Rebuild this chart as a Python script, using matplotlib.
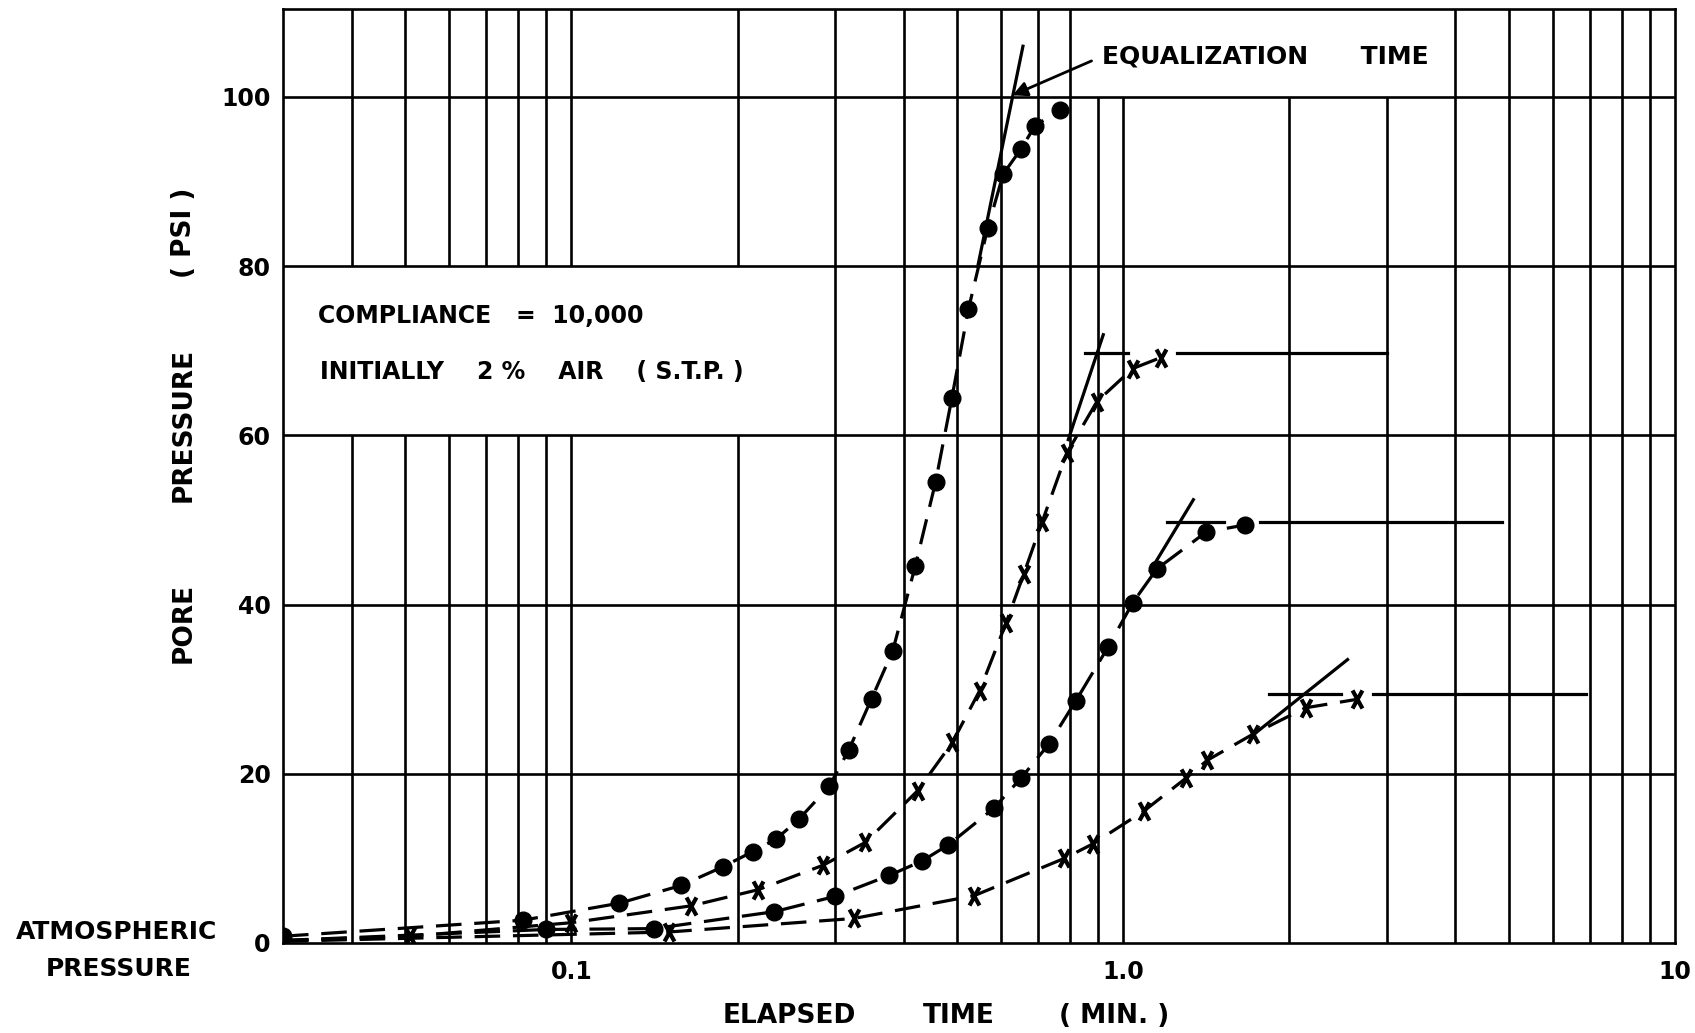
import matplotlib
matplotlib.use('Agg')
import matplotlib.pyplot as plt
from matplotlib.path import Path

# --- datos (tiempo en min, presion en psi) ---
# curva 1 (puntos) - la mas rapida
t_a = [0.03, 0.0817, 0.122, 0.158, 0.188, 0.213, 0.235, 0.258, 0.293, 0.318, 0.35,
       0.382, 0.42, 0.457, 0.489, 0.524, 0.568, 0.606, 0.652, 0.692, 0.768]
p_a = [0.8, 2.7, 4.7, 6.8, 9.0, 10.8, 12.3, 14.6, 18.5, 22.8, 28.9,
       34.5, 44.6, 54.5, 64.4, 74.9, 84.5, 90.9, 93.8, 96.6, 98.5]
# curva 2 (cruces)
t_b = [0.03, 0.051, 0.1, 0.165, 0.218, 0.286, 0.341, 0.424, 0.49, 0.549, 0.613,
       0.66, 0.713, 0.79, 0.896, 1.04, 1.17]
p_b = [0.3, 0.8, 2.4, 4.4, 6.3, 9.2, 11.9, 18.0, 23.7, 29.8, 37.8,
       43.6, 49.8, 57.9, 64.0, 67.9, 69.2]
# curva 3 (puntos)
t_c = [0.03, 0.09, 0.141, 0.233, 0.30, 0.377, 0.432, 0.482, 0.582, 0.653, 0.733,
       0.82, 0.939, 1.04, 1.15, 1.415, 1.66]
p_c = [0.3, 1.6, 1.7, 3.7, 5.5, 8.0, 9.7, 11.6, 15.9, 19.5, 23.5,
       28.6, 35.0, 40.2, 44.2, 48.6, 49.4]
# curva 4 (cruces) - la mas lenta
t_d = [0.03, 0.15, 0.325, 0.537, 0.782, 0.88, 1.09, 1.30, 1.42, 1.72, 2.14, 2.65]
p_d = [0.2, 1.3, 2.9, 5.6, 10.0, 11.7, 15.6, 19.5, 21.6, 24.7, 27.8, 28.8]

# tangentes (tiempo de igualacion)
tan_a = ([0.545, 0.658], [80, 106])
tan_b = ([0.795, 0.92], [59.5, 71.9])
tan_c = ([1.12, 1.34], [44.0, 52.4])
tan_d = ([1.72, 2.55], [24.6, 33.5])

# niveles finales (linea horizontal, con huecos donde estan los puntos)
nivel_b = (69.7, [(0.852, 1.02), (1.25, 3.0)])
nivel_c = (49.8, [(1.2, 1.52), (1.77, 4.85)])
nivel_d = (29.4, [(1.84, 2.48), (2.84, 6.9)])

x_ticks = [0.1, 1, 10]
x_labels = ['0.1', '1.0', '10']
y_ticks = [0, 20, 40, 60, 80, 100]

W, H = 1695, 1033


def fx(px):
    return px / W


def fy(py):
    return 1 - py / H


plt.rcParams['font.family'] = ['DejaVu Sans']
plt.rcParams['font.weight'] = 'bold'

fig = plt.figure(figsize=(W / 100, H / 100), dpi=100)
ax = fig.add_axes([fx(283), fy(943), fx(1675) - fx(283), fy(9) - fy(943)])
ax.set_xscale('log')
ax.set_xlim(0.03, 10)
ax.set_ylim(0, 110.4)

# rejilla dibujada a mano (con huecos para los recuadros de texto)
grid_lw = 1.9
ytop = 110.4
for dec in [0.01, 0.1, 1]:
    for k in range(1, 10):
        x = dec * k
        if x <= 0.03 or x >= 10:
            continue
        if 0.035 < x < 0.25:
            ax.vlines(x, 0, 60, color='k', lw=grid_lw, zorder=1)
            ax.vlines(x, 80, ytop, color='k', lw=grid_lw, zorder=1)
        elif 0.85 < x < 3.5:
            ax.vlines(x, 0, 100, color='k', lw=grid_lw, zorder=1)
        else:
            ax.vlines(x, 0, ytop, color='k', lw=grid_lw, zorder=1)
for y in y_ticks[1:]:
    ax.hlines(y, 0.03, 10, color='k', lw=grid_lw, zorder=1)

for s in ax.spines.values():
    s.set_linewidth(grid_lw)

# marcador en forma de X alargada
cruz = Path([(-0.55, -1), (0.55, 1), (-0.55, 1), (0.55, -1)],
            [Path.MOVETO, Path.LINETO, Path.MOVETO, Path.LINETO])

guion = (8, 4)
ax.plot(t_a, p_a, color='k', lw=2.3, dashes=guion, marker='o', ms=12,
        mfc='k', mec='k', zorder=3)
ax.plot(t_b, p_b, color='k', lw=2.3, dashes=guion, marker=cruz, ms=13, mew=3,
        mfc='none', mec='k', markevery=list(range(1, len(t_b))), zorder=3)
ax.plot(t_c, p_c, color='k', lw=2.3, dashes=guion, marker='o', ms=12,
        mfc='k', mec='k', markevery=list(range(1, len(t_c))), zorder=3)
ax.plot(t_d, p_d, color='k', lw=2.3, dashes=guion, marker=cruz, ms=13, mew=3,
        mfc='none', mec='k', markevery=list(range(1, len(t_d))), zorder=3)

for tx, ty in [tan_a, tan_b, tan_c, tan_d]:
    ax.plot(tx, ty, color='k', lw=2.3, zorder=3)

for yv, segs in [nivel_b, nivel_c, nivel_d]:
    for x0, x1 in segs:
        ax.plot([x0, x1], [yv, yv], color='k', lw=2.3, zorder=3)

# textos dentro del grafico
ax.text(0.0347, 74.1, 'COMPLIANCE   =  10,000', fontsize=17, fontweight='bold',
        va='center', ha='left')
ax.text(0.0350, 67.5, 'INITIALLY    2 %    AIR    ( S.T.P. )', fontsize=17,
        fontweight='bold', va='center', ha='left')
ax.annotate('EQUALIZATION      TIME', xy=(0.63, 100.2), xytext=(0.915, 104.8),
            fontsize=18, fontweight='bold', va='center', ha='left',
            arrowprops=dict(arrowstyle='-|>', color='k', lw=2,
                            mutation_scale=22, relpos=(0, 0.5),
                            shrinkA=6, shrinkB=0))

ax.set_xticks(x_ticks)
ax.set_xticklabels(x_labels)
ax.xaxis.set_minor_locator(matplotlib.ticker.NullLocator())
ax.set_yticks(y_ticks)
ax.set_yticklabels([str(v) for v in y_ticks])
ax.tick_params(length=0, labelsize=17)
ax.tick_params(axis='x', pad=12)
ax.tick_params(axis='y', pad=9)

# etiquetas de ejes (separadas como en el original)
fig.text(fx(184), fy(623), 'PORE', rotation=90, fontsize=19, fontweight='bold',
         ha='center', va='center')
fig.text(fx(184), fy(425), 'PRESSURE', rotation=90, fontsize=19, fontweight='bold',
         ha='center', va='center')
fig.text(fx(184), fy(233), '( PSI )', rotation=90, fontsize=19, fontweight='bold',
         ha='center', va='center')
fig.text(fx(789), fy(1016), 'ELAPSED', fontsize=19, fontweight='bold',
         ha='center', va='center')
fig.text(fx(959), fy(1016), 'TIME', fontsize=19, fontweight='bold',
         ha='center', va='center')
fig.text(fx(1114), fy(1016), '( MIN. )', fontsize=19, fontweight='bold',
         ha='center', va='center')
fig.text(fx(117), fy(932), 'ATMOSPHERIC', fontsize=18, fontweight='bold',
         ha='center', va='center')
fig.text(fx(119), fy(969), 'PRESSURE', fontsize=18, fontweight='bold',
         ha='center', va='center')

fig.savefig('out.png', dpi=100, facecolor='white')
